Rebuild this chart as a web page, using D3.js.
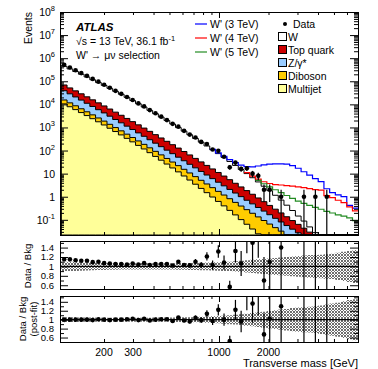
<!DOCTYPE html>
<html>
<head>
<meta charset="utf-8">
<script src="https://cdn.jsdelivr.net/npm/d3@7/dist/d3.min.js"></script>
<style>
  body { margin: 0; background: #fff; }
  svg text { font-family: "Liberation Sans", Arial, Helvetica, sans-serif; fill: #000; }
</style>
</head>
<body>
<svg width="378" height="369"></svg>
<script>
// transverse-mass bin edges [GeV]
const binEdges = [110, 119.2, 129.1, 139.8, 151.4, 164.0, 177.7, 192.5, 208.5, 225.8,
  244.6, 265.0, 287.0, 310.9, 336.8, 364.8, 395.1, 428.0, 463.6, 502.2,
  544.0, 589.3, 638.3, 691.4, 748.9, 811.2, 878.7, 951.8, 1031, 1117,
  1210, 1310, 1419, 1537, 1665, 1804, 1954, 2117, 2293, 2483,
  2690, 2914, 3156, 3419, 3703, 4011, 4345, 4707, 5098, 5523,
  5982, 6480, 7000];

// expected events per bin (stacked backgrounds)
const wJets = [377700, 292800, 225800, 173200, 132200, 100400, 76100, 57370, 43030, 32120,
  23860, 17630, 12840, 9296, 6700, 4805, 3438, 2449, 1735, 1224,
  858, 599, 416, 287, 198, 135, 92, 62.4, 42.0, 28.2,
  18.8, 12.4, 8.21, 5.37, 3.49, 2.24, 1.41, 0.867, 0.515, 0.294,
  0.160, 0.082, 0.045, 0.020, 0.008, 0.004, 0.0025, 0.0015, 0.0009, 0.0005,
  0.0003, 0.0002];
const topQuark = [30000, 22960, 17500, 13300, 10070, 7600, 5730, 4300, 3210, 2390,
  1780, 1320, 973, 716, 525, 384, 280, 203, 147, 106,
  76.4, 54.8, 39.2, 27.9, 19.8, 14.0, 9.91, 6.97, 4.89, 3.41,
  2.38, 1.65, 1.14, 0.789, 0.542, 0.372, 0.254, 0.173, 0.118, 0.0794,
  0.0536, 0.0361, 0.0242, 0.0161, 0.0107, 0.0071, 0.0047, 0.0031, 0.0021, 0.0014,
  0.0009, 0.0006];
const zGamma = [23500, 16980, 12270, 8850, 6380, 4590, 3300, 2380, 1710, 1220,
  875, 627, 448, 320, 228, 163, 116, 82.2, 58.3, 41.4,
  29.3, 20.7, 14.7, 10.4, 7.29, 5.14, 3.61, 2.54, 1.78, 1.25,
  0.875, 0.612, 0.428, 0.299, 0.208, 0.145, 0.101, 0.070, 0.0485, 0.0337,
  0.0233, 0.0161, 0.0111, 0.0076, 0.0052, 0.0036, 0.0025, 0.0017, 0.0012, 0.0008,
  0.0006, 0.0004];
const diboson = [5010, 3720, 2750, 2030, 1500, 1110, 815, 600, 442, 324,
  238, 175, 128, 93.8, 68.5, 50.1, 36.6, 26.7, 19.5, 14.2,
  10.3, 7.5, 5.43, 3.94, 2.86, 2.07, 1.50, 1.08, 0.782, 0.564,
  0.406, 0.293, 0.211, 0.152, 0.109, 0.0782, 0.0561, 0.0402, 0.0288, 0.0206,
  0.0147, 0.0105, 0.0074, 0.0053, 0.0038, 0.0027, 0.0019, 0.0013, 0.0009, 0.0006,
  0.0004, 0.0003];
const multijet = [10470, 7890, 5920, 4410, 3270, 2400, 1760, 1280, 925, 665,
  475, 337, 238, 167, 117, 81, 55.7, 38.2, 26.0, 17.6,
  11.9, 7.9, 5.27, 3.48, 2.29, 1.50, 0.97, 0.627, 0.402, 0.256,
  0.163, 0.102, 0.0641, 0.0399, 0.0247, 0.0152, 0.0093, 0.0057, 0.0035, 0.0021,
  0.0013, 0.0008, 0.0005, 0.0003, 0.0002, 0.0001, 0.00006, 0.00004, 0.00002, 0.00001,
  0.00001, 0.00001];

// observed events
const dataCounts = [513700, 396000, 298600, 226100, 171900, 126600, 96470, 70530, 52280, 38560,
  28590, 20890, 15500, 11020, 8170, 5650, 4120, 2940, 2085, 1431,
  1085, 711, 491, 366, 237, 191, 111, 97, 54, 19,
  30, 16, 17, 10, 8, 2, 2, 0, 1, 0,
  0, 0, 1, 0, 1, 0, 1, 0, 0, 0,
  0, 0];

// W' signal contributions (added on top of the background)
const sigW3 = [null, null, null, null, null, null, null, null, null, null,
  null, null, null, null, null, null, null, null, null, null,
  null, null, null, null, null, null, 4.2, 5.0, 5.8, 6.6,
  7.4, 8.2, 10, 13, 17, 21, 24, 25.5, 26, 25.5,
  22, 17, 12, 8.5, 6, 4.5, 2.2, 1.5, 1.2, 1.0,
  0.42, 0.32];
const sigW4 = [null, null, null, null, null, null, null, null, null, null,
  null, null, null, null, null, null, null, null, null, null,
  null, null, null, null, null, null, null, null, null, null,
  null, null, 1.0, 1.2, 1.4, 1.6, 1.9, 2.2, 2.5, 2.6,
  2.6, 2.55, 2.4, 2.2, 2.0, 1.9, 1.1, 0.9, 0.7, 0.55,
  0.36, 0.24];
const sigW5 = [null, null, null, null, null, null, null, null, null, null,
  null, null, null, null, null, null, null, null, null, null,
  null, null, null, null, null, null, null, null, null, null,
  null, null, null, null, 0.75, 0.8, 0.85, 0.85, 0.8, 0.7,
  0.6, 0.5, 0.43, 0.37, 0.32, 0.27, 0.22, 0.19, 0.16, 0.14,
  0.12, 0.09];

// data / post-fit background
const ratioPostFit = [1.00, 1.00, 1.00, 1.00, 1.00, 0.99, 1.01, 1.00, 0.99, 1.00,
  1.00, 1.01, 1.02, 0.99, 1.02, 0.98, 1.00, 1.01, 1.01, 0.97,
  1.05, 0.98, 0.96, 1.04, 0.99, 1.13, 0.97, 1.22, 1.00, 0.52,
  1.22, 0.96, 1.60, 1.36, 1.70, 0.67, 1.02, null, 1.30, null,
  null, null, 12, null, 25, null, 40, null, null, null,
  null, null];

// relative background uncertainty (pre-fit, post-fit)
const uncPre = [0.10, 0.098, 0.095, 0.09, 0.085, 0.08, 0.077, 0.074, 0.072, 0.07,
  0.068, 0.066, 0.065, 0.065, 0.065, 0.065, 0.065, 0.066, 0.067, 0.068,
  0.07, 0.072, 0.074, 0.077, 0.08, 0.083, 0.087, 0.09, 0.095, 0.10,
  0.11, 0.12, 0.13, 0.14, 0.15, 0.16, 0.17, 0.18, 0.19, 0.20,
  0.21, 0.22, 0.23, 0.24, 0.245, 0.25, 0.26, 0.27, 0.29, 0.31,
  0.33, 0.35];
const uncPost = [0.055, 0.052, 0.05, 0.048, 0.047, 0.046, 0.045, 0.045, 0.045, 0.045,
  0.045, 0.045, 0.045, 0.045, 0.045, 0.045, 0.046, 0.047, 0.048, 0.05,
  0.052, 0.054, 0.056, 0.06, 0.065, 0.07, 0.075, 0.08, 0.09, 0.10,
  0.11, 0.12, 0.135, 0.15, 0.165, 0.18, 0.195, 0.21, 0.225, 0.24,
  0.26, 0.27, 0.28, 0.29, 0.30, 0.32, 0.34, 0.36, 0.38, 0.41,
  0.44, 0.46];

// tick values
const yDecades = [0.1, 1, 10, 100, 1e3, 1e4, 1e5, 1e6, 1e7, 1e8];
const xLabels = [200, 300, 1000, 2000];
const xMinor = [200, 300, 400, 500, 600, 700, 800, 900, 2000, 3000, 4000, 5000, 6000];
const xMajor = [1000];
const rLabels = [0.6, 0.8, 1, 1.2, 1.4];
const rMinor = [0.7, 0.9, 1.1, 1.3, 1.5];

const svg = d3.select("svg");
const n = binEdges.length - 1;
const yMin = 0.022, yMax = 1e8;

const x = d3.scaleLog().domain([108, 7000]).range([60, 358]);
const y = d3.scaleLog().domain([yMin, yMax]).range([235, 12]);
const yR1 = d3.scaleLinear().domain([0.52, 1.54]).range([289, 241]);
const yR2 = d3.scaleLinear().domain([0.5, 1.53]).range([342, 296]);

const idx = d3.range(n);
const cumMJ = idx.map(i => multijet[i]);
const cumDB = idx.map(i => cumMJ[i] + diboson[i]);
const cumZ = idx.map(i => cumDB[i] + zGamma[i]);
const cumTop = idx.map(i => cumZ[i] + topQuark[i]);
const totBkg = idx.map(i => cumTop[i] + wJets[i]);

const defs = svg.append("defs");
[["clipMain", 12, 235], ["clipR1", 241, 289], ["clipR2", 296, 342]].forEach(([id, t, b]) => {
  defs.append("clipPath").attr("id", id).append("rect")
    .attr("x", 60).attr("y", t).attr("width", 298).attr("height", b - t);
});
const pat = defs.append("pattern").attr("id", "hatch").attr("width", 3).attr("height", 3)
  .attr("patternUnits", "userSpaceOnUse");
pat.append("path").attr("d", "M0,0L3,3M3,0L0,3").attr("stroke", "#6e6e6e").attr("stroke-width", 1);

const stepPts = vals => binEdges.map((e, i) => [e, vals[Math.min(i, n - 1)]]);
const clampY = v => y(Math.min(Math.max(v, yMin), yMax));

// ---- main panel ----
const main = svg.append("g").attr("clip-path", "url(#clipMain)");
const area = d3.area().curve(d3.curveStepAfter)
  .x(d => x(d[0])).y0(y(yMin)).y1(d => clampY(d[1]));

[[totBkg, "#ffffff"], [cumTop, "#cc0000"], [cumZ, "#99ccff"], [cumDB, "#ffcc00"], [cumMJ, "#ffff99"]]
  .forEach(([vals, col]) => {
    main.append("path").attr("d", area(stepPts(vals)))
      .attr("fill", col).attr("stroke", "#000").attr("stroke-width", 1);
  });

const sigLine = d3.line().curve(d3.curveStepAfter)
  .defined(d => d[1] != null).x(d => x(d[0])).y(d => clampY(d[1]));
[[sigW3, "#0000ff"], [sigW4, "#ff0000"], [sigW5, "#228b22"]].forEach(([sig, col]) => {
  const vals = idx.map(i => sig[i] == null ? null : sig[i] + totBkg[i]);
  main.append("path").attr("d", sigLine(stepPts(vals)))
    .attr("fill", "none").attr("stroke", col).attr("stroke-width", 1.2);
});

const centre = i => Math.sqrt(binEdges[i] * binEdges[i + 1]);
const dataIdx = idx.filter(i => dataCounts[i] > 0);
main.append("g").selectAll("line").data(dataIdx).join("line")
  .attr("x1", i => x(centre(i))).attr("x2", i => x(centre(i)))
  .attr("y1", i => clampY(dataCounts[i] - Math.sqrt(dataCounts[i])))
  .attr("y2", i => clampY(dataCounts[i] + Math.sqrt(dataCounts[i])))
  .attr("stroke", "#000").attr("stroke-width", 1.2);
main.append("g").selectAll("circle").data(dataIdx).join("circle")
  .attr("cx", i => x(centre(i))).attr("cy", i => clampY(dataCounts[i]))
  .attr("r", 2.3).attr("fill", "#000");

// ---- ratio panels ----
function ratioPanel(ys, clip, ratio, unc) {
  const g = svg.append("g").attr("clip-path", `url(#${clip})`);
  const band = d3.area().curve(d3.curveStepAfter)
    .x(d => x(d[0])).y0(d => ys(1 - d[1])).y1(d => ys(1 + d[1]));
  g.append("path").attr("d", band(stepPts(unc))).attr("fill", "url(#hatch)");
  g.append("line").attr("x1", 60).attr("x2", 358).attr("y1", ys(1)).attr("y2", ys(1))
    .attr("stroke", "#000").attr("stroke-width", 1.2);
  const pts = dataIdx.filter(i => ratio[i] != null);
  const err = i => ratio[i] / Math.sqrt(dataCounts[i]);
  g.append("g").selectAll("line").data(pts).join("line")
    .attr("x1", i => x(centre(i))).attr("x2", i => x(centre(i)))
    .attr("y1", i => ys(ratio[i] - err(i))).attr("y2", i => ys(ratio[i] + err(i)))
    .attr("stroke", "#000").attr("stroke-width", 1.2);
  g.append("g").selectAll("circle").data(pts).join("circle")
    .attr("cx", i => x(centre(i))).attr("cy", i => ys(ratio[i]))
    .attr("r", 2.3).attr("fill", "#000");
}
const ratioPre = idx.map(i => dataCounts[i] > 0 ? dataCounts[i] / totBkg[i] : null);
ratioPanel(yR1, "clipR1", ratioPre, uncPre);
ratioPanel(yR2, "clipR2", ratioPostFit, uncPost);

// ---- axes and frames ----
function noDomain(g) { g.select(".domain").remove(); }
function xTicks(top, bottom) {
  [[xMinor, 3], [xMajor, 6]].forEach(([vals, len]) => {
    svg.append("g").attr("transform", `translate(0,${bottom})`)
      .call(d3.axisTop(x).tickValues(vals).tickSize(len).tickFormat("")).call(noDomain);
    svg.append("g").attr("transform", `translate(0,${top})`)
      .call(d3.axisBottom(x).tickValues(vals).tickSize(len).tickFormat("")).call(noDomain);
  });
}
function yTicks(scale, major, minor) {
  [[major, 8], [minor, 4]].forEach(([vals, len]) => {
    svg.append("g").attr("transform", "translate(60,0)")
      .call(d3.axisRight(scale).tickValues(vals).tickSize(len).tickFormat("")).call(noDomain);
    svg.append("g").attr("transform", "translate(358,0)")
      .call(d3.axisLeft(scale).tickValues(vals).tickSize(len).tickFormat("")).call(noDomain);
  });
}
function frame(t, b) {
  svg.append("rect").attr("x", 60.5).attr("y", t + 0.5).attr("width", 298).attr("height", b - t)
    .attr("fill", "none").attr("stroke", "#000").attr("stroke-width", 1);
}

const yMinor = [];
for (let e = -2; e <= 7; e++) for (let m = 2; m <= 9; m++) {
  const v = m * Math.pow(10, e);
  if (v > yMin && v < yMax) yMinor.push(v);
}
xTicks(12, 235); yTicks(y, yDecades, yMinor); frame(12, 235);
xTicks(241, 289); yTicks(yR1, rLabels, rMinor); frame(241, 289);
xTicks(296, 342); yTicks(yR2, rLabels, rMinor); frame(296, 342);

// y tick labels, main panel
svg.append("g").selectAll("text").data(yDecades).join("text")
  .attr("x", 55).attr("y", d => y(d) + 4).attr("text-anchor", "end").attr("font-size", 10.5)
  .each(function (d) {
    const e = Math.round(Math.log10(d));
    const t = d3.select(this);
    if (e === 0) t.text("1");
    else if (e === 1) t.text("10");
    else {
      t.append("tspan").text("10");
      t.append("tspan").attr("dy", -5).attr("font-size", 7.5).text(e);
    }
  });
[yR1, yR2].forEach(ys => {
  svg.append("g").selectAll("text").data(rLabels).join("text")
    .attr("x", 54).attr("y", d => ys(d) + 3.3).attr("text-anchor", "end").attr("font-size", 9.5)
    .text(d => String(d));
});
svg.append("g").selectAll("text").data(xLabels).join("text")
  .attr("x", d => x(d)).attr("y", 356).attr("text-anchor", "middle").attr("font-size", 10.5)
  .text(d => d);
svg.append("text").attr("x", 358).attr("y", 367).attr("text-anchor", "end").attr("font-size", 11)
  .text("Transverse mass [GeV]");

svg.append("text").attr("transform", "translate(32,12) rotate(-90)").attr("text-anchor", "end")
  .attr("font-size", 10.5).text("Events");
svg.append("text").attr("transform", "translate(31,266) rotate(-90)").attr("text-anchor", "middle")
  .attr("font-size", 9.5).text("Data / Bkg");
svg.append("text").attr("transform", "translate(26,319) rotate(-90)").attr("text-anchor", "middle")
  .attr("font-size", 9.5).text("Data / Bkg");
svg.append("text").attr("transform", "translate(37,319) rotate(-90)").attr("text-anchor", "middle")
  .attr("font-size", 9.5).text("(post-fit)");

// ATLAS label
svg.append("text").attr("x", 76).attr("y", 31).attr("font-size", 11.5)
  .attr("font-weight", "bold").attr("font-style", "italic").text("ATLAS");
const lumi = svg.append("text").attr("x", 76).attr("y", 45).attr("font-size", 10.5);
lumi.append("tspan").text("√s = 13 TeV, 36.1 fb");
lumi.append("tspan").attr("dy", -4).attr("font-size", 7.5).text("-1");
svg.append("text").attr("x", 76).attr("y", 59).attr("font-size", 10.5).text("W' → μν selection");

// legend
const sigLegend = [["W' (3 TeV)", "#0000ff"], ["W' (4 TeV)", "#ff0000"], ["W' (5 TeV)", "#228b22"]];
sigLegend.forEach(([lab, col], i) => {
  const yy = 24 + i * 14;
  svg.append("line").attr("x1", 195).attr("x2", 207).attr("y1", yy).attr("y2", yy)
    .attr("stroke", col).attr("stroke-width", 1.2);
  svg.append("text").attr("x", 210).attr("y", yy + 3.7).attr("font-size", 10.5).text(lab);
});
svg.append("circle").attr("cx", 285).attr("cy", 24).attr("r", 2).attr("fill", "#000");
svg.append("text").attr("x", 293).attr("y", 27.7).attr("font-size", 10.5).text("Data");
const bkgLegend = [["W", "#ffffff"], ["Top quark", "#cc0000"], ["Z/γ*", "#99ccff"],
  ["Diboson", "#ffcc00"], ["Multijet", "#ffff99"]];
bkgLegend.forEach(([lab, col], i) => {
  const yy = 37 + i * 13;
  svg.append("rect").attr("x", 278.5).attr("y", yy - 4.5).attr("width", 8).attr("height", 8)
    .attr("fill", col).attr("stroke", "#000").attr("stroke-width", 1);
  svg.append("text").attr("x", 288).attr("y", yy + 3.7).attr("font-size", 10.5).text(lab);
});
</script>
</body>
</html>
